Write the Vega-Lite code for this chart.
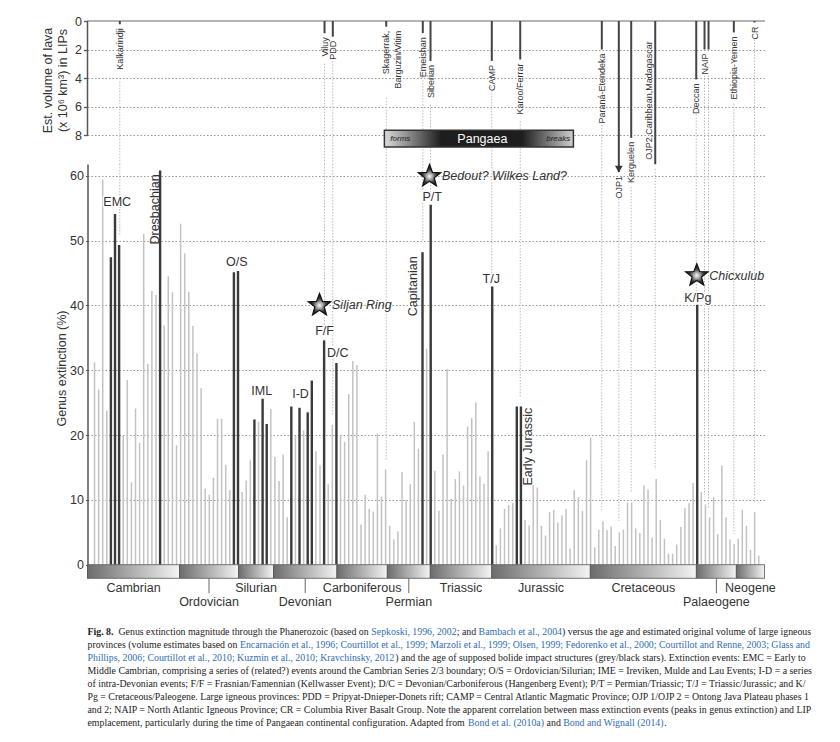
{
  "$schema": "https://vega.github.io/schema/vega-lite/v6.json",
  "padding": {"left": 41.5, "top": 15, "right": 5, "bottom": 5},
  "bounds": "flush",
  "spacing": 0,
  "config": {
    "view": {"stroke": null},
    "font": "Liberation Sans",
    "axisY": {
      "grid": true, "gridDash": [1.5, 2], "gridColor": "#999", "gridWidth": 1,
      "tickColor": "#555", "labelFontSize": 12.5, "labelColor": "#333", "labelPadding": 2, "labelFont": "Liberation Sans",
      "titleFont": "Liberation Sans", "titleFontSize": 12.5, "titleFontWeight": "normal", "titleColor": "#333", "titleBaseline": "middle", "titleAngle": 270,
      "domainColor": "#555", "domainWidth": 1.5
    }
  },
  "datasets": {
    "bars": [
      {"i":1,"v":31.2},{"i":2,"v":27.0},{"i":3,"v":59.4},{"i":4,"v":23.8},{"i":5,"v":47.4,"d":1},{"i":6,"v":54.1,"d":1},{"i":7,"v":49.3,"d":1},{"i":8,"v":19.9},{"i":9,"v":28.5},{"i":10,"v":12.7},
      {"i":11,"v":24.1},{"i":12,"v":18.8},{"i":13,"v":51.0},{"i":14,"v":31.0},{"i":15,"v":42.2},{"i":16,"v":41.6},{"i":17,"v":60.8,"d":1},{"i":18,"v":36.9},{"i":19,"v":44.5},{"i":20,"v":42.0},
      {"i":21,"v":18.4},{"i":22,"v":52.6},{"i":23,"v":48.0},{"i":24,"v":42.1},{"i":25,"v":36.8},{"i":26,"v":32.6},{"i":27,"v":27.2},{"i":28,"v":11.7},{"i":29,"v":10.8},{"i":30,"v":13.4},
      {"i":31,"v":22.5},{"i":32,"v":22.5},{"i":33,"v":15.4},{"i":34,"v":11.5},{"i":35,"v":45.1,"d":1},{"i":36,"v":45.3,"d":1},{"i":37,"v":11.2},{"i":38,"v":13.0},{"i":39,"v":16.1},{"i":40,"v":22.4,"d":1},
      {"i":41,"v":22.0},{"i":42,"v":25.6,"d":1},{"i":43,"v":21.7,"d":1},{"i":44,"v":24.0},{"i":45,"v":16.6},{"i":46,"v":12.9},{"i":47,"v":17.0},{"i":48,"v":7.3},{"i":49,"v":24.4,"d":1},{"i":50,"v":19.9},
      {"i":51,"v":24.2,"d":1},{"i":52,"v":20.7},{"i":53,"v":23.5,"d":1},{"i":54,"v":28.4,"d":1},{"i":55,"v":17.5},{"i":56,"v":15.3},{"i":57,"v":34.6,"d":1},{"i":58,"v":12.4},{"i":59,"v":21.6},{"i":60,"v":31.1,"d":1},
      {"i":61,"v":19.9},{"i":62,"v":18.9},{"i":63,"v":26.3},{"i":64,"v":31.4},{"i":65,"v":30.8},{"i":66,"v":6.2},{"i":67,"v":10.8},{"i":68,"v":8.6},{"i":69,"v":8.2},{"i":70,"v":20.2},
      {"i":71,"v":10.5},{"i":72,"v":14.7},{"i":73,"v":6.0},{"i":74,"v":3.9},{"i":75,"v":5.1},{"i":76,"v":14.3},{"i":77,"v":10.0},{"i":78,"v":12.4},{"i":79,"v":22.0},{"i":80,"v":17.9},
      {"i":81,"v":48.2,"d":1},{"i":82,"v":33.3},{"i":83,"v":55.5,"d":1},{"i":84,"v":14.5},{"i":85,"v":8.3},{"i":86,"v":17.0},{"i":87,"v":30.2},{"i":88,"v":10.2},{"i":89,"v":13.2},{"i":90,"v":14.4},
      {"i":91,"v":12.2},{"i":92,"v":21.3},{"i":93,"v":22.6},{"i":94,"v":25.0},{"i":95,"v":13.6},{"i":96,"v":12.5},{"i":97,"v":17.5},{"i":98,"v":42.9,"d":1},{"i":99,"v":3.0},{"i":100,"v":5.6},
      {"i":101,"v":8.6},{"i":102,"v":9.2},{"i":103,"v":9.5},{"i":104,"v":24.4,"d":1},{"i":105,"v":24.4,"d":1},{"i":106,"v":6.9},{"i":107,"v":6.1},{"i":108,"v":12.3},{"i":109,"v":11.9},{"i":110,"v":6.0},
      {"i":111,"v":4.5},{"i":112,"v":8.1},{"i":113,"v":8.4},{"i":114,"v":6.5},{"i":115,"v":7.6},{"i":116,"v":8.6},{"i":117,"v":2.5},{"i":118,"v":11.5},{"i":119,"v":10.4},{"i":120,"v":8.3},
      {"i":121,"v":16.1},{"i":122,"v":19.6},{"i":123,"v":2.7},{"i":124,"v":5.4},{"i":125,"v":6.7},{"i":126,"v":5.3},{"i":127,"v":5.9},{"i":128,"v":2.9},{"i":129,"v":5.0},{"i":130,"v":5.4},
      {"i":131,"v":9.6},{"i":132,"v":9.6},{"i":133,"v":5.6},{"i":134,"v":4.9},{"i":135,"v":12.2},{"i":136,"v":11.6},{"i":137,"v":4.2},{"i":138,"v":13.2},{"i":139,"v":6.9},{"i":140,"v":4.0},
      {"i":141,"v":1.7},{"i":142,"v":1.7},{"i":143,"v":3.1},{"i":144,"v":5.8},{"i":145,"v":8.7},{"i":146,"v":9.5},{"i":147,"v":12.6},{"i":148,"v":40.1,"d":1},{"i":149,"v":11.2},{"i":150,"v":9.3},
      {"i":151,"v":7.3},{"i":152,"v":10.4},{"i":153,"v":4.7},{"i":154,"v":15.3},{"i":155,"v":7.3},{"i":156,"v":3.9},{"i":157,"v":3.2},{"i":158,"v":4.0},{"i":159,"v":8.5},{"i":160,"v":6.0},
      {"i":161,"v":2.3},{"i":162,"v":8.1},{"i":163,"v":1.4}
    ],
    "lips": [
      {"name":"Kalkarindji","i":7.17,"vol":0.23},
      {"name":"Viluy","i":57.1,"vol":0.86},
      {"name":"PDD","i":59.12,"vol":1.1},
      {"name":"Skagerrak,","name2":"Barguzin/Vitim","i":72.15,"vol":0.4},
      {"name":"Emeishan","i":81.07,"vol":0.85},
      {"name":"Siberian","i":82.95,"vol":2.8},
      {"name":"CAMP","i":97.9,"vol":2.8},
      {"name":"Karoo/Ferrar","i":104.83,"vol":2.7},
      {"name":"Paraná-Etendeka","i":124.73,"vol":2.0},
      {"name":"OJP1","i":128.88,"vol":10.6},
      {"name":"Kerguelen","i":131.9,"vol":8.2},
      {"side":"OJP2,Caribbean,Madagascar","i":137.76,"vol":10.05},
      {"name":"Deccan","i":147.76,"vol":4.1},
      {"name":"NAIP","i":149.78,"vol":2.0},
      {"name":"NAIP","part":2,"i":150.76,"vol":2.0},
      {"name":"Ethiopia-Yemen","i":156.93,"vol":0.8},
      {"name":"CR","i":161.98,"vol":0.1}
    ],
    "periods": [
      {"p":"Cambrian","s":-0.71,"e":21.73,"row":1},
      {"p":"Ordovician","s":21.73,"e":36.12,"row":2},
      {"p":"Silurian","s":36.12,"e":44.66,"row":1},
      {"p":"Devonian","s":44.66,"e":60.12,"row":2},
      {"p":"Carboniferous","s":60.12,"e":72.42,"row":1},
      {"p":"Permian","s":72.42,"e":82.9,"row":2},
      {"p":"Triassic","s":82.9,"e":97.88,"row":1},
      {"p":"Jurassic","s":97.88,"e":121.93,"row":1},
      {"p":"Cretaceous","s":121.93,"e":147.8,"row":1},
      {"p":"Palaeogene","s":147.8,"e":157.55,"row":2},
      {"p":"Neogene","s":157.55,"e":164.41,"row":1}
    ],
    "events": [
      {"label":"EMC","i":6.54,"v":55.9},
      {"label":"O/S","i":35.71,"v":46.7},
      {"label":"IML","i":41.8,"v":26.8},
      {"label":"I-D","i":51.24,"v":26.3},
      {"label":"F/F","i":57.1,"v":36.1},
      {"label":"D/C","i":60.34,"v":32.7},
      {"label":"P/T","i":83.37,"v":56.7},
      {"label":"T/J","i":97.76,"v":44.1},
      {"label":"K/Pg","i":148.15,"v":41.2}
    ],
    "stages": [
      {"label":"Dresbachian","i":15.83,"v":60.2},
      {"label":"Capitanian","i":78.63,"v":47.55},
      {"label":"Early Jurassic","i":106.68,"v":24.2}
    ],
    "impacts": [
      {"label":"Siljan Ring","i":55.88,"v":40.0},
      {"label":"Bedout? Wilkes Land?","i":82.71,"v":59.9},
      {"label":"Chicxulub","i":147.9,"v":44.6}
    ],
    "caption": [
      {"line":4,"text":"Middle Cambrian, comprising a series of (related?) events around the Cambrian Series 2/3 boundary; O/S = Ordovician/Silurian; IME = Ireviken, Mulde and Lau Events; I-D = a series"},
      {"line":5,"text":"of intra-Devonian events; F/F = Frasnian/Famennian (Kellwasser Event); D/C = Devonian/Carboniferous (Hangenberg Event); P/T = Permian/Triassic; T/J = Triassic/Jurassic; and K/"},
      {"line":6,"text":"Pg = Cretaceous/Paleogene. Large igneous provinces: PDD = Pripyat-Dnieper-Donets rift; CAMP = Central Atlantic Magmatic Province; OJP 1/OJP 2 = Ontong Java Plateau phases 1"},
      {"line":7,"text":"and 2; NAIP = North Atlantic Igneous Province; CR = Columbia River Basalt Group. Note the apparent correlation between mass extinction events (peaks in genus extinction) and LIP"},
      {"line":2,"text":"provinces (volume estimates based on "},
      {"line":8,"text":"emplacement, particularly during the time of Pangaean continental configuration. Adapted from "}
    ]
  },
  "vconcat": [
    {
      "width": 677,
      "height": 142.5,
      "data": {"name": "lips"},
      "layer": [
        {
          "mark": {"type": "rule", "color": "#b4b4b4", "strokeWidth": 2},
          "encoding": {
            "y": {
              "datum": 0, "type": "quantitative",
              "scale": {"domain": [0, 10], "reverse": true, "nice": false, "zero": false},
              "axis": {"values": [0, 2, 4, 6, 8], "domain": false, "tickSize": 4, "tickWidth": 1.3, "title": ["Est. volume of lava", "(x 10⁶ km³) in LIPs"], "titleX": -40, "titleY": 59, "titleLineHeight": 14.5}
            }
          }
        },
        {
          "transform": [{"filter": "datum.name == 'Kalkarindji'"}],
          "mark": {"type": "rule", "color": "#555", "strokeWidth": 1.5},
          "encoding": {
            "x": {"datum": -0.71, "type": "quantitative", "scale": {"domain": [-0.71, 164.41], "nice": false, "zero": false}, "axis": null},
            "y": {"datum": 0, "type": "quantitative", "axis": {"values": [0, 2, 4, 6, 8], "domain": false, "tickSize": 4, "tickWidth": 1.3, "title": ["Est. volume of lava", "(x 10⁶ km³) in LIPs"], "titleX": -40, "titleY": 59, "titleLineHeight": 14.5}},
            "y2": {"datum": 8}
          }
        },
        {
          "transform": [
            {"calculate": "max(length(datum.name || ''), length(datum.name2 || ''))", "as": "n"},
            {"calculate": "datum.vol + (datum.n > 0 ? (8 + datum.n * 4.5) : 4) / 14.25", "as": "e"},
            {"filter": "datum.e < 10"}
          ],
          "mark": {"type": "rule", "color": "#bbb", "strokeWidth": 1, "strokeDash": [1.5, 1.5]},
          "encoding": {
            "x": {"field": "i", "type": "quantitative", "axis": null},
            "y": {"field": "e", "type": "quantitative", "axis": {"values": [0, 2, 4, 6, 8], "domain": false, "tickSize": 4, "tickWidth": 1.3, "title": ["Est. volume of lava", "(x 10⁶ km³) in LIPs"], "titleX": -40, "titleY": 59, "titleLineHeight": 14.5}},
            "y2": {"datum": 10}
          }
        },
        {
          "mark": {"type": "rule", "color": "#444", "strokeWidth": 2},
          "encoding": {
            "x": {"field": "i", "type": "quantitative", "axis": null},
            "y": {"field": "vol", "type": "quantitative", "axis": {"values": [0, 2, 4, 6, 8], "domain": false, "tickSize": 4, "tickWidth": 1.3, "title": ["Est. volume of lava", "(x 10⁶ km³) in LIPs"], "titleX": -40, "titleY": 59, "titleLineHeight": 14.5}},
            "y2": {"datum": 0}
          }
        },
        {
          "transform": [{"filter": "datum.name == 'OJP1'"}],
          "mark": {"type": "point", "shape": "triangle-down", "filled": true, "color": "#333", "size": 60, "opacity": 1, "yOffset": -3},
          "encoding": {
            "x": {"field": "i", "type": "quantitative", "axis": null},
            "y": {"field": "vol", "type": "quantitative", "axis": {"values": [0, 2, 4, 6, 8], "domain": false, "tickSize": 4, "tickWidth": 1.3, "title": ["Est. volume of lava", "(x 10⁶ km³) in LIPs"], "titleX": -40, "titleY": 59, "titleLineHeight": 14.5}}
          }
        },
        {
          "transform": [
            {"filter": "datum.name && datum.part != 2"},
            {"calculate": "datum.name2 ? [datum.name, datum.name2] : datum.name", "as": "lab"}
          ],
          "mark": {"type": "text", "angle": 270, "align": "right", "baseline": "middle", "dx": -4, "fontSize": 9, "lineHeight": 11.5, "color": "#333"},
          "encoding": {
            "x": {"field": "i", "type": "quantitative", "axis": null},
            "y": {"field": "vol", "type": "quantitative", "axis": {"values": [0, 2, 4, 6, 8], "domain": false, "tickSize": 4, "tickWidth": 1.3, "title": ["Est. volume of lava", "(x 10⁶ km³) in LIPs"], "titleX": -40, "titleY": 59, "titleLineHeight": 14.5}},
            "text": {"field": "lab", "type": "nominal"}
          }
        },
        {
          "transform": [{"filter": "datum.side"}],
          "mark": {"type": "text", "angle": 270, "align": "right", "baseline": "middle", "dy": -6, "fontSize": 9, "color": "#333"},
          "encoding": {
            "x": {"field": "i", "type": "quantitative", "axis": null},
            "y": {"datum": 1.42, "type": "quantitative", "axis": {"values": [0, 2, 4, 6, 8], "domain": false, "tickSize": 4, "tickWidth": 1.3, "title": ["Est. volume of lava", "(x 10⁶ km³) in LIPs"], "titleX": -40, "titleY": 59, "titleLineHeight": 14.5}},
            "text": {"field": "side", "type": "nominal"}
          }
        },
        {
          "data": {"values": [{"era": "Pangaea", "s": 71.7, "e": 117.8}]},
          "mark": {
            "type": "rect", "stroke": "#333", "strokeWidth": 1.5,
            "fill": {"gradient": "linear", "x1": 0, "y1": 0, "x2": 1, "y2": 0, "stops": [
              {"offset": 0, "color": "#dcdcdc"}, {"offset": 0.3, "color": "#1e1e1e"}, {"offset": 0.73, "color": "#1e1e1e"}, {"offset": 1, "color": "#d0d0d0"}
            ]}
          },
          "encoding": {
            "x": {"field": "s", "type": "quantitative", "axis": null},
            "x2": {"field": "e"},
            "y": {"datum": 7.67, "type": "quantitative", "axis": {"values": [0, 2, 4, 6, 8], "domain": false, "tickSize": 4, "tickWidth": 1.3, "title": ["Est. volume of lava", "(x 10⁶ km³) in LIPs"], "titleX": -40, "titleY": 59, "titleLineHeight": 14.5}},
            "y2": {"datum": 8.84}
          }
        },
        {
          "data": {"values": [{"t": "forms", "i": 75.6}, {"t": "breaks", "i": 114.1}]},
          "mark": {"type": "text", "fontSize": 8, "fontStyle": "italic", "color": "#222", "baseline": "middle"},
          "encoding": {
            "x": {"field": "i", "type": "quantitative", "axis": null},
            "y": {"datum": 8.26, "type": "quantitative", "axis": {"values": [0, 2, 4, 6, 8], "domain": false, "tickSize": 4, "tickWidth": 1.3, "title": ["Est. volume of lava", "(x 10⁶ km³) in LIPs"], "titleX": -40, "titleY": 59, "titleLineHeight": 14.5}},
            "text": {"field": "t", "type": "nominal"}
          }
        },
        {
          "data": {"values": [{"t": "Pangaea", "i": 95.6}]},
          "mark": {"type": "text", "fontSize": 12.5, "color": "white", "baseline": "middle"},
          "encoding": {
            "x": {"field": "i", "type": "quantitative", "axis": null},
            "y": {"datum": 8.26, "type": "quantitative", "axis": {"values": [0, 2, 4, 6, 8], "domain": false, "tickSize": 4, "tickWidth": 1.3, "title": ["Est. volume of lava", "(x 10⁶ km³) in LIPs"], "titleX": -40, "titleY": 59, "titleLineHeight": 14.5}},
            "text": {"field": "t", "type": "nominal"}
          }
        }
      ]
    },
    {
      "width": 677,
      "height": 414.3,
      "layer": [
        {
          "data": {"name": "lips"},
          "transform": [
            {"calculate": "max(length(datum.name || ''), length(datum.name2 || ''))", "as": "n"},
            {"calculate": "datum.vol + (datum.n > 0 ? (8 + datum.n * 4.5) : 4) / 14.25", "as": "e"},
            {"calculate": "datum.e > 10 ? 61.8 - (datum.e - 10) * 2.198 : 61.8", "as": "b0"},
            {"calculate": "round(datum.i)", "as": "bi"},
            {"lookup": "bi", "from": {"data": {"name": "bars"}, "key": "i", "fields": ["v"]}, "as": ["bv"]},
            {"calculate": "datum.bv + 1.5", "as": "bend"}
          ],
          "mark": {"type": "rule", "color": "#bbb", "strokeWidth": 1, "strokeDash": [1.5, 1.5]},
          "encoding": {
            "x": {"field": "i", "type": "quantitative", "scale": {"domain": [-0.71, 164.41], "nice": false, "zero": false}, "axis": null},
            "y": {"field": "b0", "type": "quantitative", "scale": {"domain": [-2.1, 61.8], "nice": false, "zero": false}, "axis": {"values": [0, 10, 20, 30, 40, 50, 60], "tickSize": 2, "title": "Genus extinction (%)", "titleX": -26, "titleY": 204}},
            "y2": {"field": "bend"}
          }
        },
        {
          "data": {"name": "bars"},
          "mark": {"type": "rule"},
          "encoding": {
            "x": {"field": "i", "type": "quantitative", "axis": null},
            "y": {"field": "v", "type": "quantitative", "axis": {"values": [0, 10, 20, 30, 40, 50, 60], "tickSize": 2, "title": "Genus extinction (%)", "titleX": -26, "titleY": 204}},
            "y2": {"datum": 0},
            "color": {"condition": {"test": "datum.d == 1", "value": "#3a3a3a"}, "value": "#c2c2c2"},
            "strokeWidth": {"condition": {"test": "datum.d == 1", "value": 2.4}, "value": 1.5}
          }
        },
        {
          "data": {"name": "periods"},
          "mark": {
            "type": "rect", "stroke": "#555", "strokeWidth": 0.8,
            "fill": {"gradient": "linear", "x1": 0, "y1": 0, "x2": 1, "y2": 0, "stops": [
              {"offset": 0, "color": "#6c6c6c"}, {"offset": 1, "color": "#f4f4f4"}
            ]}
          },
          "encoding": {
            "x": {"field": "s", "type": "quantitative", "axis": null},
            "x2": {"field": "e"},
            "y": {"datum": 0, "type": "quantitative", "axis": {"values": [0, 10, 20, 30, 40, 50, 60], "tickSize": 2, "title": "Genus extinction (%)", "titleX": -26, "titleY": 204}},
            "y2": {"datum": -2.1}
          }
        },
        {
          "data": {"name": "periods"},
          "transform": [{"filter": "datum.row == 2"}, {"calculate": "(datum.s + datum.e) / 2", "as": "m"}],
          "mark": {"type": "rule", "color": "#666", "strokeWidth": 1},
          "encoding": {
            "x": {"field": "m", "type": "quantitative", "axis": null},
            "y": {"datum": -2.1, "type": "quantitative", "axis": {"values": [0, 10, 20, 30, 40, 50, 60], "tickSize": 2, "title": "Genus extinction (%)", "titleX": -26, "titleY": 204}},
            "y2": {"datum": -4.4}
          }
        },
        {
          "data": {"name": "periods"},
          "transform": [{"calculate": "(datum.s + datum.e) / 2", "as": "m"}, {"calculate": "datum.row == 1 ? -3.55 : -5.7", "as": "ly"}],
          "mark": {"type": "text", "fontSize": 12.5, "color": "#333", "baseline": "middle"},
          "encoding": {
            "x": {"field": "m", "type": "quantitative", "axis": null},
            "y": {"field": "ly", "type": "quantitative", "axis": {"values": [0, 10, 20, 30, 40, 50, 60], "tickSize": 2, "title": "Genus extinction (%)", "titleX": -26, "titleY": 204}},
            "text": {"field": "p", "type": "nominal"}
          }
        },
        {
          "data": {"name": "events"},
          "mark": {"type": "text", "fontSize": 12.5, "color": "white", "stroke": "white", "strokeWidth": 3, "strokeJoin": "round", "baseline": "middle"},
          "encoding": {
            "x": {"field": "i", "type": "quantitative", "axis": null},
            "y": {"field": "v", "type": "quantitative", "axis": {"values": [0, 10, 20, 30, 40, 50, 60], "tickSize": 2, "title": "Genus extinction (%)", "titleX": -26, "titleY": 204}},
            "text": {"field": "label", "type": "nominal"}
          }
        },
        {
          "data": {"name": "events"},
          "mark": {"type": "text", "fontSize": 12.5, "color": "#333", "baseline": "middle"},
          "encoding": {
            "x": {"field": "i", "type": "quantitative", "axis": null},
            "y": {"field": "v", "type": "quantitative", "axis": {"values": [0, 10, 20, 30, 40, 50, 60], "tickSize": 2, "title": "Genus extinction (%)", "titleX": -26, "titleY": 204}},
            "text": {"field": "label", "type": "nominal"}
          }
        },
        {
          "data": {"name": "stages"},
          "mark": {"type": "text", "fontSize": 12.5, "color": "#333", "baseline": "middle", "align": "right", "angle": 270},
          "encoding": {
            "x": {"field": "i", "type": "quantitative", "axis": null},
            "y": {"field": "v", "type": "quantitative", "axis": {"values": [0, 10, 20, 30, 40, 50, 60], "tickSize": 2, "title": "Genus extinction (%)", "titleX": -26, "titleY": 204}},
            "text": {"field": "label", "type": "nominal"}
          }
        },
        {
          "data": {"name": "impacts"},
          "mark": {
            "type": "point", "shape": "M0,-1L0.247,-0.34L0.951,-0.309L0.399,0.13L0.588,0.809L0,0.42L-0.588,0.809L-0.399,0.13L-0.951,-0.309L-0.247,-0.34Z",
            "size": 560, "opacity": 1, "filled": true, "stroke": "#111", "strokeWidth": 1.2,
            "fill": {"gradient": "radial", "x1": 0.5, "y1": 0.55, "r1": 0, "x2": 0.5, "y2": 0.55, "r2": 0.5, "stops": [
              {"offset": 0, "color": "#ffffff"}, {"offset": 0.25, "color": "#b0b0b0"}, {"offset": 0.6, "color": "#3c3c3c"}, {"offset": 1, "color": "#0c0c0c"}
            ]}
          },
          "encoding": {
            "x": {"field": "i", "type": "quantitative", "axis": null},
            "y": {"field": "v", "type": "quantitative", "axis": {"values": [0, 10, 20, 30, 40, 50, 60], "tickSize": 2, "title": "Genus extinction (%)", "titleX": -26, "titleY": 204}}
          }
        },
        {
          "data": {"name": "impacts"},
          "mark": {"type": "text", "fontSize": 12.5, "fontStyle": "italic", "color": "#333", "align": "left", "baseline": "middle", "dx": 12.5},
          "encoding": {
            "x": {"field": "i", "type": "quantitative", "axis": null},
            "y": {"field": "v", "type": "quantitative", "axis": {"values": [0, 10, 20, 30, 40, 50, 60], "tickSize": 2, "title": "Genus extinction (%)", "titleX": -26, "titleY": 204}},
            "text": {"field": "label", "type": "nominal"}
          }
        }
      ]
    },
    {
      "width": 677,
      "height": 151,
      "layer": [
        {
          "data": {"values": [{"line": 1, "text": "Fig. 8."}]},
          "mark": {"type": "text", "align": "left", "baseline": "middle", "font": "Liberation Serif", "fontSize": 9.85, "fontWeight": "bold", "color": "#222"},
          "encoding": {
            "x": {"datum": 0, "type": "quantitative", "scale": {"domain": [0, 1]}, "axis": null},
            "y": {"field": "line", "type": "quantitative", "scale": {"domain": [-3.11, 8.5], "reverse": true, "nice": false, "zero": false}, "axis": null},
            "text": {"field": "text", "type": "nominal"}
          }
        },
        {
          "data": {"name": "caption"},
          "mark": {"type": "text", "align": "left", "baseline": "middle", "font": "Liberation Serif", "fontSize": 9.85, "color": "#222"},
          "encoding": {
            "x": {"datum": 0, "type": "quantitative", "axis": null},
            "y": {"field": "line", "type": "quantitative", "axis": null},
            "text": {"field": "text", "type": "nominal"}
          }
        },
        {
          "data": {"values": [{"line": 1, "text": "Genus extinction magnitude through the Phanerozoic (based on "}]},
          "mark": {"type": "text", "align": "left", "baseline": "middle", "font": "Liberation Serif", "fontSize": 9.85, "color": "#222", "dx": 31},
          "encoding": {"x": {"datum": 0, "type": "quantitative", "axis": null}, "y": {"field": "line", "type": "quantitative", "axis": null}, "text": {"field": "text", "type": "nominal"}}
        },
        {
          "data": {"values": [{"line": 1, "text": "Sepkoski, 1996, 2002"}]},
          "mark": {"type": "text", "align": "left", "baseline": "middle", "font": "Liberation Serif", "fontSize": 9.85, "color": "#2f6db5", "dx": 283.8},
          "encoding": {"x": {"datum": 0, "type": "quantitative", "axis": null}, "y": {"field": "line", "type": "quantitative", "axis": null}, "text": {"field": "text", "type": "nominal"}}
        },
        {
          "data": {"values": [{"line": 1, "text": "; and"}]},
          "mark": {"type": "text", "align": "left", "baseline": "middle", "font": "Liberation Serif", "fontSize": 9.85, "color": "#222", "dx": 369.2},
          "encoding": {"x": {"datum": 0, "type": "quantitative", "axis": null}, "y": {"field": "line", "type": "quantitative", "axis": null}, "text": {"field": "text", "type": "nominal"}}
        },
        {
          "data": {"values": [{"line": 1, "text": "Bambach et al., 2004"}]},
          "mark": {"type": "text", "align": "left", "baseline": "middle", "font": "Liberation Serif", "fontSize": 9.85, "color": "#2f6db5", "dx": 391.1},
          "encoding": {"x": {"datum": 0, "type": "quantitative", "axis": null}, "y": {"field": "line", "type": "quantitative", "axis": null}, "text": {"field": "text", "type": "nominal"}}
        },
        {
          "data": {"values": [{"line": 1, "text": ") versus the age and estimated original volume of large igneous"}]},
          "mark": {"type": "text", "align": "left", "baseline": "middle", "font": "Liberation Serif", "fontSize": 9.85, "color": "#222", "dx": 474.5},
          "encoding": {"x": {"datum": 0, "type": "quantitative", "axis": null}, "y": {"field": "line", "type": "quantitative", "axis": null}, "text": {"field": "text", "type": "nominal"}}
        },
        {
          "data": {"values": [{"line": 2, "text": "Encarnación et al., 1996; Courtillot et al., 1999; Marzoli et al., 1999; Olsen, 1999; Fedorenko et al., 2000; Courtillot and Renne, 2003; Glass and"}]},
          "mark": {"type": "text", "align": "left", "baseline": "middle", "font": "Liberation Serif", "fontSize": 9.85, "color": "#2f6db5", "dx": 152.4},
          "encoding": {"x": {"datum": 0, "type": "quantitative", "axis": null}, "y": {"field": "line", "type": "quantitative", "axis": null}, "text": {"field": "text", "type": "nominal"}}
        },
        {
          "data": {"values": [{"line": 3, "text": "Phillips, 2006; Courtillot et al., 2010; Kuzmin et al., 2010; Kravchinsky, 2012"}]},
          "mark": {"type": "text", "align": "left", "baseline": "middle", "font": "Liberation Serif", "fontSize": 9.85, "color": "#2f6db5"},
          "encoding": {"x": {"datum": 0, "type": "quantitative", "axis": null}, "y": {"field": "line", "type": "quantitative", "axis": null}, "text": {"field": "text", "type": "nominal"}}
        },
        {
          "data": {"values": [{"line": 3, "text": ") and the age of supposed bolide impact structures (grey/black stars). Extinction events: EMC = Early to"}]},
          "mark": {"type": "text", "align": "left", "baseline": "middle", "font": "Liberation Serif", "fontSize": 9.85, "color": "#222", "dx": 307.8},
          "encoding": {"x": {"datum": 0, "type": "quantitative", "axis": null}, "y": {"field": "line", "type": "quantitative", "axis": null}, "text": {"field": "text", "type": "nominal"}}
        },
        {
          "data": {"values": [{"line": 8, "text": "Bond et al. (2010a)"}]},
          "mark": {"type": "text", "align": "left", "baseline": "middle", "font": "Liberation Serif", "fontSize": 9.85, "color": "#2f6db5", "dx": 380.5},
          "encoding": {"x": {"datum": 0, "type": "quantitative", "axis": null}, "y": {"field": "line", "type": "quantitative", "axis": null}, "text": {"field": "text", "type": "nominal"}}
        },
        {
          "data": {"values": [{"line": 8, "text": "and"}]},
          "mark": {"type": "text", "align": "left", "baseline": "middle", "font": "Liberation Serif", "fontSize": 9.85, "color": "#222", "dx": 459.1},
          "encoding": {"x": {"datum": 0, "type": "quantitative", "axis": null}, "y": {"field": "line", "type": "quantitative", "axis": null}, "text": {"field": "text", "type": "nominal"}}
        },
        {
          "data": {"values": [{"line": 8, "text": "Bond and Wignall (2014)"}]},
          "mark": {"type": "text", "align": "left", "baseline": "middle", "font": "Liberation Serif", "fontSize": 9.85, "color": "#2f6db5", "dx": 475.7},
          "encoding": {"x": {"datum": 0, "type": "quantitative", "axis": null}, "y": {"field": "line", "type": "quantitative", "axis": null}, "text": {"field": "text", "type": "nominal"}}
        },
        {
          "data": {"values": [{"line": 8, "text": "."}]},
          "mark": {"type": "text", "align": "left", "baseline": "middle", "font": "Liberation Serif", "fontSize": 9.85, "color": "#222", "dx": 576.7},
          "encoding": {"x": {"datum": 0, "type": "quantitative", "axis": null}, "y": {"field": "line", "type": "quantitative", "axis": null}, "text": {"field": "text", "type": "nominal"}}
        }
      ]
    }
  ]
}
